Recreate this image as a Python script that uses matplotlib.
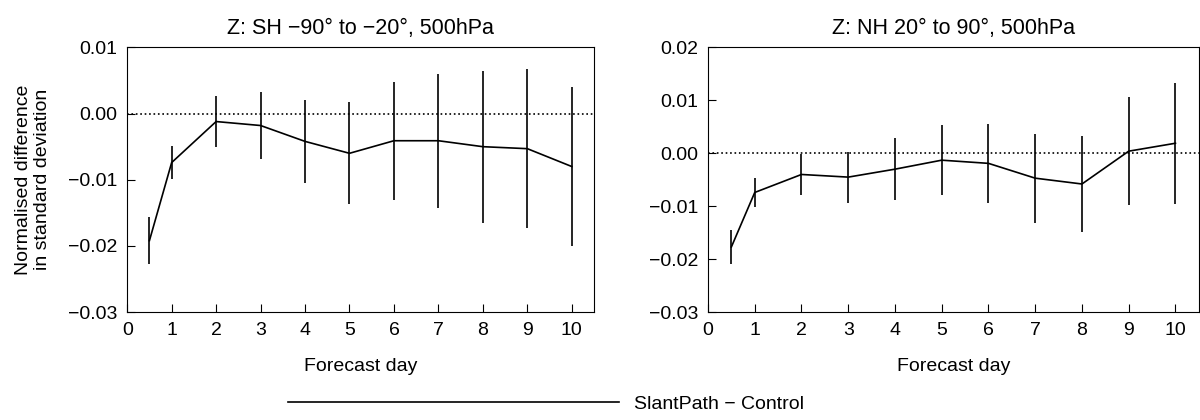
import matplotlib
matplotlib.use("Agg")
import matplotlib.pyplot as plt
from matplotlib.lines import Line2D

plt.rcParams['font.family'] = ['Liberation Sans', 'DejaVu Sans']

days = [0.5, 1, 2, 3, 4, 5, 6, 7, 8, 9, 10]

sh_mean = [-0.0192, -0.0074, -0.0012, -0.0018, -0.0042, -0.0060, -0.0041, -0.0041, -0.0050, -0.0053, -0.0080]
sh_err = [0.0035, 0.0025, 0.0038, 0.0050, 0.0063, 0.0077, 0.0089, 0.0101, 0.0115, 0.0120, 0.0120]

nh_mean = [-0.0177, -0.0074, -0.0040, -0.0045, -0.0030, -0.0013, -0.0019, -0.0047, -0.0058, 0.0004, 0.0019]
nh_err = [0.0033, 0.0027, 0.0038, 0.0048, 0.0058, 0.0066, 0.0075, 0.0084, 0.0090, 0.0102, 0.0114]

panels = [
    ("Z: SH \u221290\u00b0 to \u221220\u00b0, 500hPa", sh_mean, sh_err, (-0.03, 0.01),
     [-0.03, -0.02, -0.01, 0.0, 0.01]),
    ("Z: NH 20\u00b0 to 90\u00b0, 500hPa", nh_mean, nh_err, (-0.03, 0.02),
     [-0.03, -0.02, -0.01, 0.0, 0.01, 0.02]),
]

fig = plt.figure(figsize=(12, 4.2), dpi=100)
rects = [[0.106, 0.257, 0.389, 0.63], [0.59, 0.257, 0.409, 0.63]]

for rect, (title, mean, err, ylim, yticks) in zip(rects, panels):
    ax = fig.add_axes(rect)
    ax.errorbar(days, mean, yerr=err, color='black', lw=1.2, elinewidth=1.2, capsize=0)
    ax.axhline(0, color='black', ls=':', lw=1.2)
    ax.set_xlim(0, 10.5)
    ax.set_ylim(*ylim)
    ax.set_xticks(range(11))
    ax.set_yticks(yticks)
    ax.set_yticklabels([f"{t:.2f}".replace('-', '\u2212') for t in yticks])
    ax.tick_params(direction='in', labelsize=14, length=6, pad=7)
    ax.set_xlabel("Forecast day", fontsize=14, labelpad=14)
    ax.set_title(title, fontsize=15.5, pad=10)

fig.axes[0].set_ylabel("Normalised difference\nin standard deviation", fontsize=14, labelpad=12)

fig.legend([Line2D([0], [0], color='black', lw=1.2)], ["SlantPath \u2212 Control"],
           loc='lower center', bbox_to_anchor=(0.455, -0.025), frameon=False,
           fontsize=14, handlelength=17)

fig.savefig("out.png")
